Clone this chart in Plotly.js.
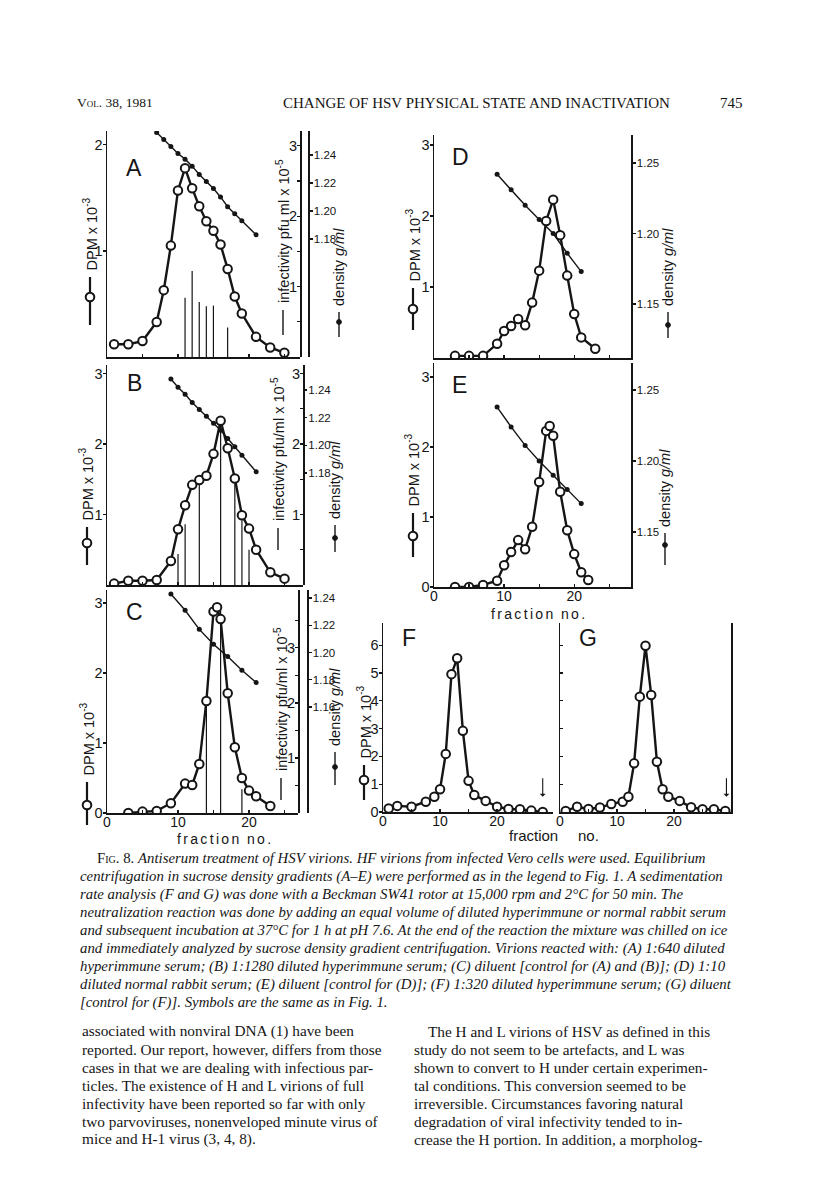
<!DOCTYPE html>
<html>
<head>
<meta charset="utf-8">
<script src="https://cdn.plot.ly/plotly-3.0.1.min.js"></script>
<style>
  html, body { margin: 0; padding: 0; background: #fff; }
  #myDiv { width: 816px; height: 1193px; }
</style>
</head>
<body>
<div id="myDiv"></div>
<script>
// ---- panel A: 1:640 hyperimmune serum
var aFrac = [1,3,5,7,8,9,10,11,12,13,14,15,16,17,18,19,21,23,25];
var aDpm = [0.12,0.12,0.15,0.33,0.63,1.05,1.57,1.78,1.59,1.42,1.28,1.19,1.06,0.83,0.57,0.41,0.19,0.09,0.04];
var aDensFrac = [7,8,9,10,11,12,13,14,15,16,17,18,19,21];
var aDens = [1.256,1.251,1.246,1.241,1.237,1.232,1.226,1.221,1.216,1.210,1.203,1.198,1.193,1.183];
var aInfFrac = [11,12,13,14,15,17];
var aInf = [0.84,1.22,0.78,0.72,0.73,0.42];

// ---- panel B: 1:1280 hyperimmune serum
var bFrac = [1,3,5,7,9,10,11,12,13,14,15,16,17,18,19,20,21,23,25];
var bDpm = [0.02,0.06,0.06,0.07,0.34,0.79,1.13,1.42,1.49,1.55,1.86,2.33,1.94,1.51,0.99,0.80,0.50,0.18,0.09];
var bDensFrac = [9,10,11,12,13,14,15,16,17,18,19,21];
var bDens = [1.248,1.242,1.237,1.231,1.226,1.221,1.216,1.211,1.205,1.199,1.193,1.181];
var bInfFrac = [10,11,13,16,18,19,20];
var bInf = [0.44,0.86,1.42,2.37,1.44,0.92,0.50];

// ---- panel C: diluent
var cFrac = [3,5,7,9,11,12,13,14,15,15.5,16,17,18,19,20,21,23];
var cDpm = [0.0,0.02,0.03,0.14,0.42,0.40,0.70,1.60,2.88,2.94,2.77,1.71,0.94,0.50,0.32,0.24,0.10];
var cDensFrac = [9,11,13,15,17,19,21];
var cDens = [1.243,1.231,1.217,1.206,1.197,1.187,1.178];
var cInfFrac = [14,16,19];
var cInf = [2.04,3.79,0.43];

// ---- panel D: 1:10 normal rabbit serum
var dFrac = [3,5,7,9,10,11,12,13,14,15,16,17,18,19,20,21,23];
var dDpm = [0.03,0.03,0.03,0.20,0.38,0.45,0.55,0.46,0.78,1.23,1.93,2.23,1.73,1.16,0.62,0.29,0.13];
var dDensFrac = [9,11,13,15,17,19,21];
var dDens = [1.242,1.231,1.220,1.210,1.200,1.186,1.173];

// ---- panel E: diluent
var eFrac = [3,5,7,9,10,11,12,13,14,15,16,16.5,17,18,19,20,21,22];
var eDpm = [0.0,0.0,0.03,0.09,0.31,0.50,0.67,0.54,0.86,1.50,2.23,2.30,2.16,1.36,0.81,0.47,0.21,0.10];
var eDensFrac = [9,11,13,15,17,19,21];
var eDens = [1.238,1.224,1.211,1.200,1.190,1.180,1.170];

// ---- panels F and G: sedimentation rate
var fFrac = [1,2.5,5,7.5,9,10,11,12,13,14,15,16,18,20,22,24,26,28];
var fDpm = [0.13,0.22,0.19,0.37,0.55,0.82,2.09,4.96,5.53,2.92,1.12,0.61,0.40,0.19,0.11,0.10,0.05,0.0];
var gFrac = [1,3,5,7,9,11,12,13,14,15,16,17,18,19,21,23,25,27,29];
var gDpm = [0.04,0.19,0.11,0.16,0.29,0.37,0.55,1.75,4.15,5.98,4.21,1.81,0.82,0.55,0.40,0.17,0.10,0.10,0.04];
var fArrow = 28, gArrow = 29.2;

var ink = '#151515';
var sans = 'Liberation Sans, Arial, sans-serif';
var serif = 'Liberation Serif, Times New Roman, serif';

function px(x) { return x / 816; }
function py(y) { return 1 - y / 1193; }

function dpmTrace(x, y, xa, ya) {
  return {x: x, y: y, xaxis: xa, yaxis: ya, type: 'scatter', mode: 'lines+markers',
    line: {color: ink, width: 2.4},
    marker: {symbol: 'circle', size: 8.5, color: '#fff', line: {color: ink, width: 2}},
    hoverinfo: 'skip'};
}
function densTrace(x, y, xa, ya) {
  return {x: x, y: y, xaxis: xa, yaxis: ya, type: 'scatter', mode: 'lines+markers',
    line: {color: ink, width: 1.4}, marker: {size: 5, color: ink}, hoverinfo: 'skip'};
}
function infTrace(fr, v, xa, ya) {
  var x = [], y = [];
  for (var i = 0; i < fr.length; i++) {
    x.push(fr[i], fr[i], null);
    y.push(0, v[i], null);
  }
  return {x: x, y: y, xaxis: xa, yaxis: ya, type: 'scatter', mode: 'lines',
    line: {color: ink, width: 1.2}, hoverinfo: 'skip'};
}

var data = [
  infTrace(aInfFrac, aInf, 'x', 'y'),
  densTrace(aDensFrac, aDens, 'x', 'y2'),
  dpmTrace(aFrac, aDpm, 'x', 'y3'),
  infTrace(bInfFrac, bInf, 'x2', 'y4'),
  densTrace(bDensFrac, bDens, 'x2', 'y5'),
  dpmTrace(bFrac, bDpm, 'x2', 'y6'),
  infTrace(cInfFrac, cInf, 'x3', 'y7'),
  densTrace(cDensFrac, cDens, 'x3', 'y8'),
  dpmTrace(cFrac, cDpm, 'x3', 'y9'),
  densTrace(dDensFrac, dDens, 'x4', 'y10'),
  dpmTrace(dFrac, dDpm, 'x4', 'y11'),
  densTrace(eDensFrac, eDens, 'x5', 'y12'),
  dpmTrace(eFrac, eDpm, 'x5', 'y13'),
  dpmTrace(fFrac, fDpm, 'x6', 'y14'),
  dpmTrace(gFrac, gDpm, 'x7', 'y15')
];

function ax(o) {
  var base = {showline: true, linecolor: ink, linewidth: 1.5, ticks: 'outside', ticklen: 3,
    tickwidth: 1.3, tickcolor: ink, showgrid: false, zeroline: false, fixedrange: true,
    ticklabelstandoff: -3, tickfont: {family: sans, size: 14.5, color: ink}};
  for (var k in o) base[k] = o[k];
  return base;
}
var xHidden = {ticks: 'inside', tickvals: [5,10,15,20,25], showticklabels: false};
var xShown = {ticks: 'inside', tickvals: [0,10,20], ticklabelstandoff: -4,
  minor: {ticks: 'inside', tickvals: [5,15,25], ticklen: 3, tickwidth: 1.3, tickcolor: ink},
  tickfont: {family: sans, size: 14, color: ink}};
function infTicks(n) {
  var major = [], minor = [];
  for (var i = 1; i <= n * 2; i++) { if (i % 2) minor.push(i / 2); else major.push(i / 2); }
  return {tickvals: major, minor: {ticks: 'outside', tickvals: minor, ticklen: 3, tickwidth: 1.3, tickcolor: ink}};
}
var densFont = {family: 'Liberation Sans Narrow, Liberation Sans, Arial', size: 11.5, color: ink};
var densAC = {tickvals: [1.18,1.20,1.22,1.24], ticktext: ['1.18','1.20','1.22','1.24'], ticklabelstandoff: -1};
var densDE = {tickvals: [1.15,1.20,1.25], ticktext: ['1.15','1.20','1.25'], ticklabelstandoff: -1};

function merge(a, b) { var o = {}; for (var k in a) o[k] = a[k]; for (var j in b) o[j] = b[j]; return o; }

var layout = {
  width: 816, height: 1193, margin: {l: 0, r: 0, t: 0, b: 0},
  paper_bgcolor: '#fff', plot_bgcolor: 'rgba(0,0,0,0)', showlegend: false,
  // A
  xaxis: ax(merge(xHidden, {domain: [px(107), px(300)], range: [0, 27.2], anchor: 'y'})),
  yaxis: ax(merge(infTicks(3), {domain: [py(357), py(131)], range: [0, 3.21], anchor: 'free', position: px(300), side: 'left'})),
  yaxis2: ax(merge(densAC, {overlaying: 'y', range: [1.0957, 1.2571], anchor: 'free', position: px(308), side: 'right', tickfont: densFont})),
  yaxis3: ax({overlaying: 'y', range: [0, 2.13], anchor: 'x', side: 'left', tickvals: [1, 2]}),
  // B
  xaxis2: ax(merge(xHidden, {domain: [px(107), px(303)], range: [0, 27.6], anchor: 'y4'})),
  yaxis4: ax(merge(infTicks(3), {domain: [py(585), py(365)], range: [0, 3.12], anchor: 'free', position: px(303), side: 'left'})),
  yaxis5: ax(merge(densAC, {overlaying: 'y4', range: [1.0992, 1.2581], anchor: 'free', position: px(303), side: 'right', showline: false, tickfont: densFont})),
  yaxis6: ax({overlaying: 'y4', range: [0, 3.12], anchor: 'x2', side: 'left', tickvals: [1, 2, 3]}),
  // C
  xaxis3: ax(merge(xShown, {domain: [px(107), px(298)], range: [0, 26.9], anchor: 'y7'})),
  yaxis7: ax(merge(infTicks(3.5), {domain: [py(813), py(590)], range: [0, 4.05], anchor: 'free', position: px(298), side: 'left'})),
  yaxis8: ax(merge(densAC, {tickvals: [1.16,1.18,1.20,1.22,1.24], ticktext: ['1.16','1.18','1.20','1.22','1.24'],
    overlaying: 'y7', range: [1.0822, 1.2459], anchor: 'free', position: px(307), side: 'right', tickfont: densFont})),
  yaxis9: ax({overlaying: 'y7', range: [0, 3.186], anchor: 'x3', side: 'left', tickvals: [0, 1, 2, 3]}),
  // D
  xaxis4: ax(merge(xHidden, {domain: [px(434), px(631)], range: [0, 28.1], anchor: 'y10'})),
  yaxis10: ax(merge(densDE, {domain: [py(358), py(135)], range: [1.1117, 1.2699], anchor: 'x4', side: 'right', tickfont: densFont})),
  yaxis11: ax({overlaying: 'y10', range: [0, 3.14], anchor: 'x4', side: 'left', tickvals: [1, 2, 3]}),
  // E
  xaxis5: ax(merge(xShown, {domain: [px(434), px(631)], range: [0, 28.1], anchor: 'y12'})),
  yaxis12: ax(merge(densDE, {domain: [py(587), py(363)], range: [1.1113, 1.269], anchor: 'x5', side: 'right', tickfont: densFont})),
  yaxis13: ax({overlaying: 'y12', range: [0, 3.2], anchor: 'x5', side: 'left', tickvals: [0, 1, 2, 3]}),
  // F
  xaxis6: ax(merge(xShown, {domain: [px(383), px(553)], range: [0, 29.8], anchor: 'y14'})),
  yaxis14: ax({domain: [py(812), py(623)], range: [0, 6.8], anchor: 'x6', tickvals: [0,1,2,3,4,5,6]}),
  // G
  xaxis7: ax(merge(xShown, {domain: [px(560), px(731)], range: [0, 30.0], anchor: 'y15'})),
  yaxis15: ax({domain: [py(812), py(623)], range: [0, 6.8], anchor: 'x7', ticks: 'inside',
    tickvals: [1,2,3,4,5,6], showticklabels: false, mirror: true})
};

var ann = [];
var shapes = [];
function label(x, y, text, size, opts) {
  var a = {xref: 'paper', yref: 'paper', x: px(x), y: py(y), text: text, showarrow: false,
    xanchor: 'center', yanchor: 'middle', font: {family: sans, size: size, color: ink}};
  for (var k in (opts || {})) a[k] = opts[k];
  ann.push(a);
}
// rotated axis title, reading upwards, with its key symbol drawn below it
function keyLine(x, y1, y2, w) {
  shapes.push({type: 'line', xref: 'paper', yref: 'paper', x0: px(x), x1: px(x), y0: py(y1), y1: py(y2),
    line: {color: ink, width: w}});
}
function keyDot(x, y, r, open) {
  shapes.push({type: 'circle', xref: 'paper', yref: 'paper', x0: px(x - r), x1: px(x + r), y0: py(y + r), y1: py(y - r),
    fillcolor: open ? '#fff' : ink, line: {color: ink, width: open ? 2 : 1}});
}
function vtitle(x, yBottom, text) {
  label(x, yBottom, text, 14.5, {textangle: -90, yanchor: 'bottom'});
}
function dpmTitle(x, yTop, yBot, yc) {
  keyLine(x, yTop, yBot, 2.2); keyDot(x, yc, 4.3, true);
  vtitle(x, yTop - 4, 'DPM x 10<sup>-3</sup>');
}
function densTitle(x, yTop, yBot, yc) {
  keyLine(x, yTop, yBot, 1.4); keyDot(x, yc, 2.4, false);
  vtitle(x, yTop - 4, 'density <i>g/ml</i>');
}
function infTitle(x, yTop, yBot, text) {
  keyLine(x, yTop, yBot, 1.4);
  vtitle(x, yTop - 5, text);
}

var letters = [['A', 134, 168], ['B', 134, 383], ['C', 134, 612], ['D', 460, 157], ['E', 459, 385], ['F', 409, 638], ['G', 588, 638]];
letters.forEach(function (l) { label(l[1], l[2], l[0], 23); });

dpmTitle(90, 277, 325, 297);
infTitle(283, 310, 335, 'infectivity pfu ml x 10<sup>-5</sup>');
densTitle(339, 312, 337, 322);
dpmTitle(87, 527, 565, 543);
infTitle(278, 528, 550, 'infectivity pfu/ml x 10<sup>-5</sup>');
densTitle(335, 525, 552, 538);
dpmTitle(87, 782, 825, 805);
infTitle(281, 778, 800, 'infectivity pfu/ml x 10<sup>-5</sup>');
densTitle(335, 752, 785, 767);
dpmTitle(413, 288, 330, 309);
densTitle(668, 312, 338, 325);
dpmTitle(413, 513, 557, 536);
densTitle(665, 533, 565, 545);
dpmTitle(364, 765, 800, 780);

function spaced(s) { return s.split('').join('\u2006'); }
label(224, 839, spaced('fraction') + '  ' + spaced('no.'), 14);
label(538, 614, spaced('fraction') + '  ' + spaced('no.'), 14);
label(533, 835, 'fraction', 15);
label(588, 835, 'no.', 15);

// arrows marking the bottom of the sedimentation tubes
ann.push({xref: 'x6', yref: 'y14', x: fArrow, y: 0.55, ax: 0, ay: -20, showarrow: true,
  arrowhead: 1, arrowsize: 0.9, arrowwidth: 1.1, arrowcolor: ink, text: ''});
ann.push({xref: 'x7', yref: 'y15', x: gArrow, y: 0.55, ax: 0, ay: -20, showarrow: true,
  arrowhead: 1, arrowsize: 0.9, arrowwidth: 1.1, arrowcolor: ink, text: ''});

// page header
label(75, 103, 'Vol. 38, 1981', 13.5, {xanchor: 'left', font: {family: serif, size: 13.5, color: ink, variant: 'small-caps'}});
label(476, 103, 'CHANGE OF HSV PHYSICAL STATE AND INACTIVATION', 15, {font: {family: serif, size: 15, color: ink}});
label(745, 103, '745', 15, {xanchor: 'right', font: {family: serif, size: 15, color: ink}});

var caption = [
  'F<span style="font-size:10px">IG</span>. 8. <i>Antiserum treatment of HSV virions. HF virions from infected Vero cells were used. Equilibrium</i>',
  '<i>centrifugation in sucrose density gradients (A\u2013E) were performed as in the legend to Fig. 1. A sedimentation</i>',
  '<i>rate analysis (F and G) was done with a Beckman SW41 rotor at 15,000 rpm and 2\u00B0C for 50 min. The</i>',
  '<i>neutralization reaction was done by adding an equal volume of diluted hyperimmune or normal rabbit serum</i>',
  '<i>and subsequent incubation at 37\u00B0C for 1 h at pH 7.6. At the end of the reaction the mixture was chilled on ice</i>',
  '<i>and immediately analyzed by sucrose density gradient centrifugation. Virions reacted with: (A) 1:640 diluted</i>',
  '<i>hyperimmune serum; (B) 1:1280 diluted hyperimmune serum; (C) diluent [control for (A) and (B)]; (D) 1:10</i>',
  '<i>diluted normal rabbit serum; (E) diluent [control for (D)]; (F) 1:320 diluted hyperimmune serum; (G) diluent</i>',
  '<i>[control for (F)]. Symbols are the same as in Fig. 1.</i>'
];
caption.forEach(function (t, i) {
  label(i === 0 ? 95 : 78, 858 + 18 * i, t, 14.8, {xanchor: 'left', font: {family: serif, size: 14.8, color: ink}});
});

var bodyLeft = [
  'associated with nonviral DNA (1) have been',
  'reported. Our report, however, differs from those',
  'cases in that we are dealing with infectious par-',
  'ticles. The existence of H and L virions of full',
  'infectivity have been reported so far with only',
  'two parvoviruses, nonenveloped minute virus of',
  'mice and H-1 virus (3, 4, 8).'
];
var bodyRight = [
  'The H and L virions of HSV as defined in this',
  'study do not seem to be artefacts, and L was',
  'shown to convert to H under certain experimen-',
  'tal conditions. This conversion seemed to be',
  'irreversible. Circumstances favoring natural',
  'degradation of viral infectivity tended to in-',
  'crease the H portion. In addition, a morpholog-'
];
bodyLeft.forEach(function (t, i) {
  label(80, 1031 + 18 * i, t, 15.3, {xanchor: 'left', font: {family: serif, size: 15.3, color: ink}});
});
bodyRight.forEach(function (t, i) {
  label(i === 0 ? 426 : 412, 1031 + 18 * i, t, 15.3, {xanchor: 'left', font: {family: serif, size: 15.3, color: ink}});
});

layout.annotations = ann;
layout.shapes = shapes;
Plotly.newPlot('myDiv', data, layout, {staticPlot: true});
</script>
</body>
</html>
